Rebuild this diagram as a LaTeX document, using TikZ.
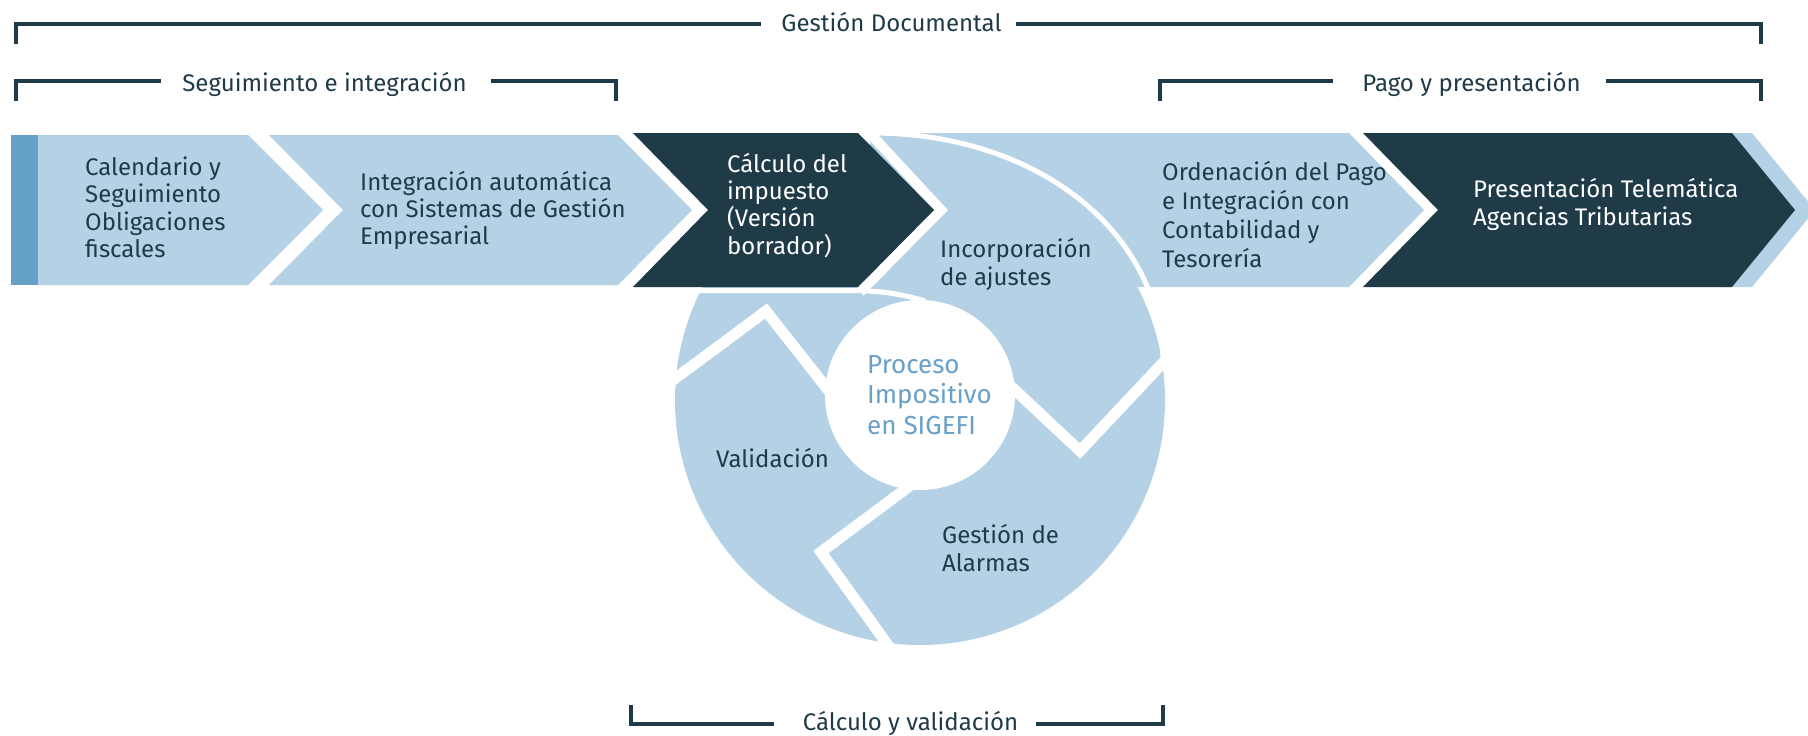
\documentclass[tikz,border=0pt]{standalone}
\usepackage{fontspec}
\setmainfont{Fira Sans}
\definecolor{lightb}{RGB}{180,209,229}
\definecolor{darkb}{RGB}{31,59,71}
\definecolor{stripb}{RGB}{101,160,200}
\definecolor{procb}{RGB}{104,160,202}
\newcommand\hgtA{\rule{0pt}{24pt}}
\newcommand\hgtB{\rule{0pt}{27pt}}
\tikzset{
  lbfill/.style={fill=lightb},
  dkfill/.style={fill=darkb},
  gapline/.style={draw=white, line width=10pt, line join=miter},
  thinwhite/.style={draw=white, line width=5pt},
  sepline/.style={draw=white, line width=11pt, line join=miter, miter limit=10},
  bracket/.style={draw=darkb, line width=4pt, line join=miter},
  btxt/.style={anchor=base, inner sep=0pt, text=darkb, font=\fontsize{24}{28}\selectfont},
  txt/.style={anchor=north west, inner sep=0pt, align=left, text=darkb},
}
\begin{document}
\begin{tikzpicture}[x=1pt,y=-1pt]
\useasboundingbox (0,0) rectangle (1808,736);
% ---- big ring disc
\coordinate (oc) at (920,400);
\fill[lightb] (oc) circle[radius=245];
% ---- Ordenacion arrow (left part hidden)
\fill[lightb] (870,133) -- (1349,133) -- (1424,210) -- (1349,287) -- (870,287) -- cycle;
% ---- arrow 1
\fill[stripb] (11,135) rectangle (38,285);
\fill[lightb] (38,135) -- (248,135) -- (323,210) -- (248,285) -- (38,285) -- cycle;
% ---- arrow 2
\fill[lightb] (269,135) -- (618,135) -- (692,210) -- (618,285) -- (269,285) -- (343,210) -- cycle;
% ---- sliver and dark arrow 5
\fill[lightb] (1720,133) -- (1752,133) -- (1815,210) -- (1752,287) -- (1720,287) -- cycle;
\fill[darkb] (1363,133) -- (1732,133) -- (1795,210) -- (1732,287) -- (1363,287) -- (1438,210) -- cycle;
% ---- white separations
\coordinate (ga1) at (865,128);
\coordinate (ga2) at (941,210);
\coordinate (ga3) at (860,292);
\draw[gapline] (ga1) -- (ga2) -- (ga3);
\coordinate (ob1) at (872,133);
\coordinate (ob2) at (1163,368);
\draw[thinwhite] (ob1) .. controls (1040,133) and (1165,235) .. (ob2);
\coordinate (pl1) at (680,290.5);
\coordinate (pl2) at (855,290.5);
\coordinate (pl3) at (925,301);
\draw[thinwhite] (pl1) -- (pl2) .. controls (885,291) and (905,295) .. (pl3);
\coordinate (sa1) at (1000,376);
\coordinate (sa2) at (1080,451);
\coordinate (sa3) at (1175,350);
\draw[sepline] (sa1) -- (sa2) -- (sa3);
\coordinate (sb1) at (915,482);
\coordinate (sb2) at (821,552);
\coordinate (sb3) at (895,655);
\draw[sepline] (sb1) -- (sb2) -- (sb3);
\coordinate (sc1) at (840,405);
\coordinate (sc2) at (766,311);
\coordinate (sc3) at (665,386);
\draw[sepline] (sc1) -- (sc2) -- (sc3);
% ---- dark arrow 3
\fill[darkb] (633,133) -- (858,133) -- (934,210) -- (858,287) -- (633,287) -- (708,210) -- cycle;
% ---- inner circle
\coordinate (ic) at (920,395);
\fill[white] (ic) circle[radius=95];
% ---- texts
\node[txt, font=\fontsize{24}{27.5}\selectfont] (t1) at (85,151) {\hgtA Calendario y\\Seguimiento\\Obligaciones\\fiscales};
\node[txt, font=\fontsize{24}{27}\selectfont] (t2) at (360,166) {\hgtA Integración automática\\con Sistemas de Gestión\\Empresarial};
\node[txt, text=white, font=\fontsize{24}{27.3}\selectfont] (t3) at (727,148) {\hgtA Cálculo del\\impuesto\\(Versión\\borrador)};
\node[txt, font=\fontsize{24}{28}\selectfont] (t4) at (940,233) {\hgtA Incorporación\\de ajustes};
\node[txt, font=\fontsize{24}{29}\selectfont] (t5) at (1162,156) {\hgtA Ordenación del Pago\\e Integración con\\Contabilidad y\\Tesorería};
\node[txt, text=white, font=\fontsize{24}{28}\selectfont] (t6) at (1473,173) {\hgtA Presentación Telemática\\Agencias Tributarias};
\node[txt, font=\fontsize{24}{28}\selectfont] (t7) at (716,443) {\hgtA Validación};
\node[txt, font=\fontsize{24}{28}\selectfont] (t8) at (942,519) {\hgtA Gestión de\\Alarmas};
\node[txt, text=procb, font=\fontsize{26}{30.5}\selectfont] (t9) at (867,346) {\hgtB Proceso\\Impositivo\\en SIGEFI};
% ---- brackets
\node[btxt] (gd) at (891.5,31) {Gestión Documental};
\coordinate (gdA) at (16,44);
\coordinate (gdB) at (761,24);
\coordinate (gdC) at (1016,24);
\coordinate (gdD) at (1761,44);
\draw[bracket] (gdA) |- (gdB);
\draw[bracket] (gdC) -| (gdD);
\node[btxt] (si) at (324.5,91) {Seguimiento e integración};
\coordinate (siA) at (16,101);
\coordinate (siB) at (161,81);
\coordinate (siC) at (491,81);
\coordinate (siD) at (616,101);
\draw[bracket] (siA) |- (siB);
\draw[bracket] (siC) -| (siD);
\node[btxt] (pp) at (1471.5,91) {Pago y presentación};
\coordinate (ppA) at (1160,101);
\coordinate (ppB) at (1333,81);
\coordinate (ppC) at (1606,81);
\coordinate (ppD) at (1761,101);
\draw[bracket] (ppA) |- (ppB);
\draw[bracket] (ppC) -| (ppD);
\node[btxt] (cv) at (910.5,730) {Cálculo y validación};
\coordinate (cvA) at (631,705);
\coordinate (cvB) at (774,724);
\coordinate (cvC) at (1036,724);
\coordinate (cvD) at (1163,705);
\draw[bracket] (cvA) |- (cvB);
\draw[bracket] (cvC) -| (cvD);
\end{tikzpicture}
\end{document}
